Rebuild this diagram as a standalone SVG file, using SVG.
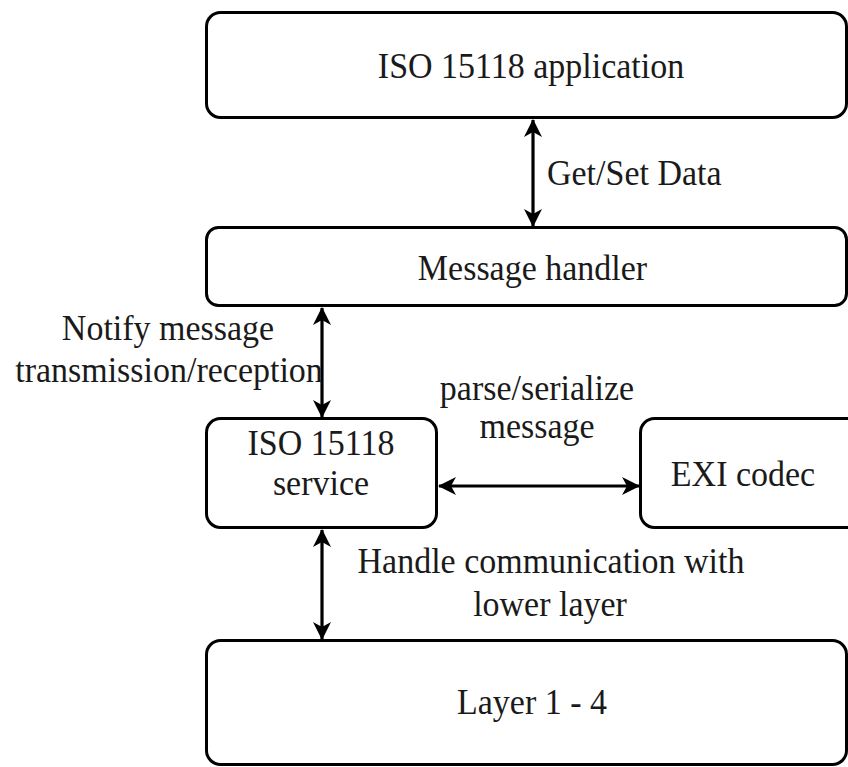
<svg xmlns="http://www.w3.org/2000/svg" width="848" height="767" viewBox="0 0 848 767">
<style>
.box{fill:#fff;stroke:#000;stroke-width:3}
.lbl{font-family:"Liberation Serif","Times New Roman",serif;font-size:36px;fill:#1a1a1a}
.mid{text-anchor:middle}
.conn{stroke:#000;stroke-width:3.2;fill:none;marker-start:url(#ah);marker-end:url(#ah)}
</style>
<defs>
<marker id="ah" viewBox="0 0 18 18" refX="17" refY="9" markerWidth="18" markerHeight="18" markerUnits="userSpaceOnUse" orient="auto-start-reverse">
<path d="M0,0 L18,9 L0,18 L5,9 Z" fill="#000"/>
</marker>
</defs>
<rect width="848" height="767" fill="#fff"/>
<g id="app"><rect class="box" x="206.5" y="12.5" width="640" height="105" rx="14"/>
<g transform="translate(531,78) scale(0.944,1)"><text class="lbl mid">ISO 15118 application</text></g></g>
<g id="handler"><rect class="box" x="206.5" y="227.5" width="640" height="78" rx="12"/>
<g transform="translate(532.5,280) scale(0.944,1)"><text class="lbl mid">Message handler</text></g></g>
<g id="service"><rect class="box" x="206.5" y="418.5" width="230" height="109" rx="14"/>
<g transform="translate(321,455) scale(0.944,1)"><text class="lbl mid">ISO 15118</text></g>
<g transform="translate(321,495) scale(0.944,1)"><text class="lbl mid">service</text></g></g>
<g id="exi"><rect class="box" x="640.5" y="418.5" width="240" height="109" rx="14"/>
<g transform="translate(743,486) scale(0.944,1)"><text class="lbl mid">EXI codec</text></g></g>
<g id="layer"><rect class="box" x="206.5" y="640.5" width="640" height="124" rx="14"/>
<g transform="translate(532,714) scale(0.944,1)"><text class="lbl mid">Layer 1 - 4</text></g></g>
<g id="connectors">
<line class="conn" x1="533" y1="120" x2="533" y2="226"/>
<line class="conn" x1="322" y1="308" x2="322" y2="417"/>
<line class="conn" x1="439" y1="486" x2="639" y2="486"/>
<line class="conn" x1="322" y1="530" x2="322" y2="639"/>
<g transform="translate(547,185) scale(0.944,1)"><text class="lbl">Get/Set Data</text></g>
<g transform="translate(168,340) scale(0.944,1)"><text class="lbl mid">Notify message</text></g>
<g transform="translate(169,382) scale(0.944,1)"><text class="lbl mid">transmission/reception</text></g>
<g transform="translate(537,400) scale(0.944,1)"><text class="lbl mid">parse/serialize</text></g>
<g transform="translate(537,438) scale(0.944,1)"><text class="lbl mid">message</text></g>
<g transform="translate(551,573) scale(0.944,1)"><text class="lbl mid">Handle communication with</text></g>
<g transform="translate(550,616) scale(0.944,1)"><text class="lbl mid">lower layer</text></g>
</g>
</svg>
